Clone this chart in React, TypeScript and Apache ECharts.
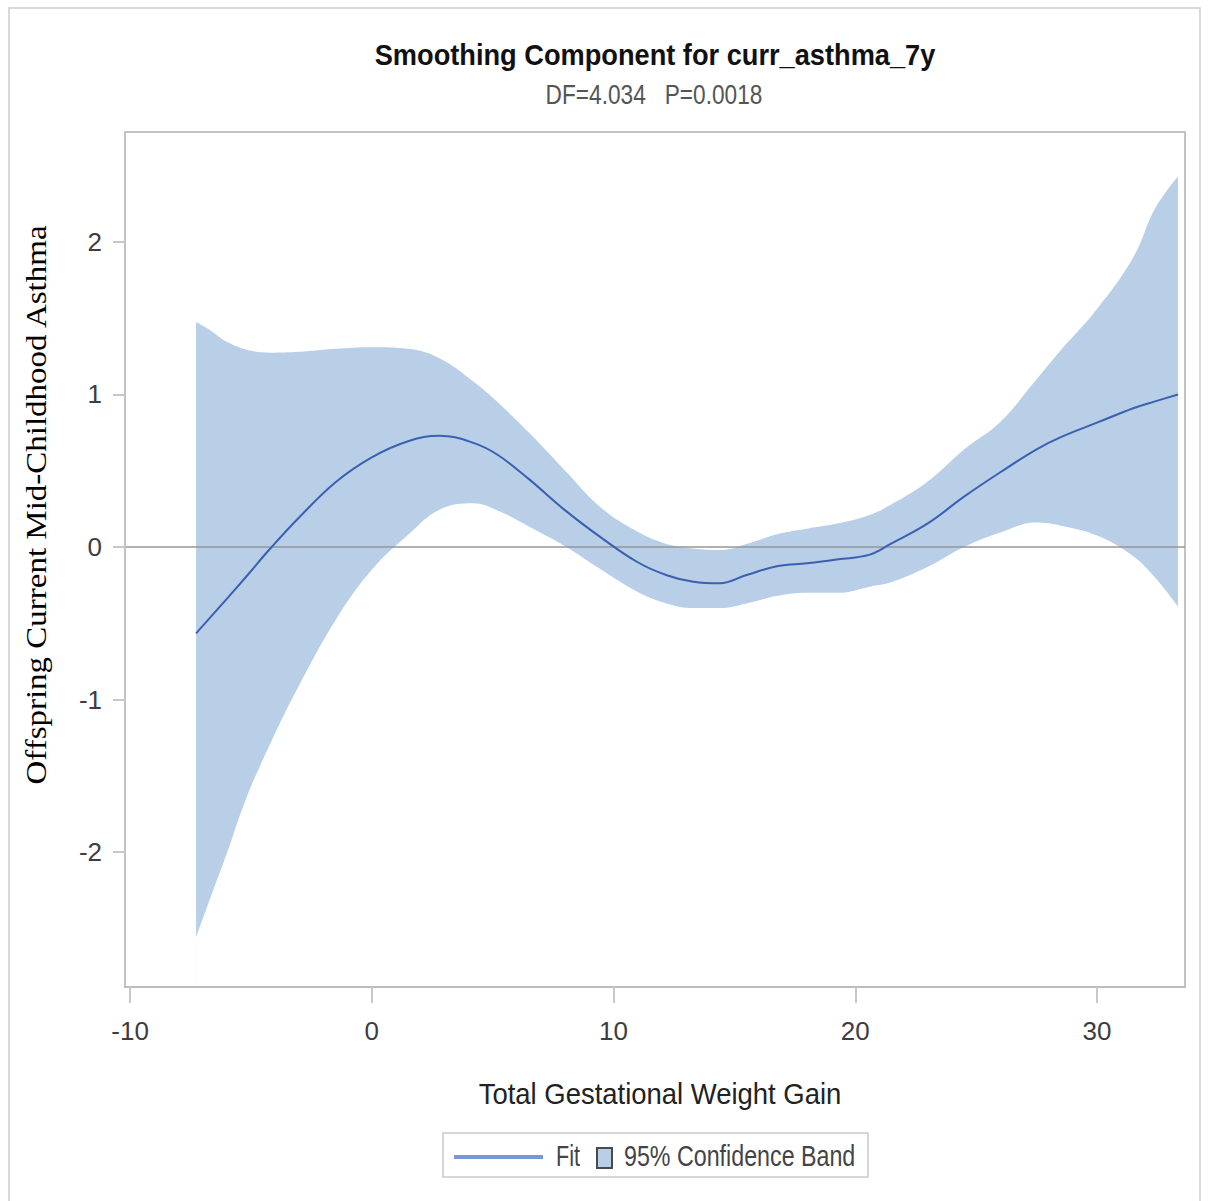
import React, { useEffect, useRef } from "react";
import * as echarts from "echarts";

const xs = [-7.27, -6.7, -6.0, -5.2, -4.2, -3, -1.5, 0, 1.5, 2.8, 4.2, 5.2, 6.5, 8, 9.5, 11, 12.2, 13.3, 14.4, 15.5, 16.8, 18, 19.3, 20.6, 21.5, 23, 24.5, 26, 27.5, 28.5, 30, 31.5, 32.4, 33.35];
const fit = [-0.566, -0.465, -0.34, -0.195, -0.01, 0.195, 0.425, 0.588, 0.693, 0.73, 0.683, 0.605, 0.445, 0.24, 0.06, -0.1, -0.185, -0.228, -0.238, -0.184, -0.125, -0.107, -0.081, -0.05, 0.024, 0.155, 0.33, 0.49, 0.64, 0.72, 0.815, 0.91, 0.955, 1.0];
const upper = [1.475, 1.423, 1.345, 1.295, 1.274, 1.28, 1.3, 1.31, 1.3, 1.237, 1.085, 0.95, 0.75, 0.5, 0.255, 0.1, 0.02, -0.01, -0.02, 0.02, 0.085, 0.12, 0.155, 0.21, 0.28, 0.43, 0.64, 0.82, 1.1, 1.29, 1.56, 1.9, 2.22, 2.43];
const lower = [-2.56, -2.31, -2.01, -1.65, -1.29, -0.905, -0.48, -0.15, 0.08, 0.245, 0.287, 0.24, 0.135, 0.005, -0.15, -0.295, -0.37, -0.4, -0.4, -0.37, -0.32, -0.3, -0.3, -0.26, -0.23, -0.13, 0.0, 0.095, 0.16, 0.14, 0.075, -0.06, -0.2, -0.39];
const xTicks = [-10, 0, 10, 20, 30];
const yTicks = [-2, -1, 0, 1, 2];

const BAND = "#b8cfe7";
const FIT = "#3b5fb1";
const SANS = "'Liberation Sans', Arial, sans-serif";
const NARROW = "'Liberation Sans Narrow', 'Liberation Sans', Arial, sans-serif";

export default function App() {
  const ref = useRef<HTMLDivElement>(null);
  useEffect(() => {
    document.body.style.margin = "0";
    document.body.style.overflow = "hidden";
    const chart = echarts.init(ref.current!, null, { renderer: "svg" });
    const lowerData = xs.map((x, i) => [x, lower[i]]);
    const upperData = xs.map((x, i) => [x, upper[i]]);
    const fitData = xs.map((x, i) => [x, fit[i]]);
    chart.setOption({
      animation: false,
      backgroundColor: "#ffffff",
      grid: {
        left: 125,
        top: 132,
        right: 23,
        bottom: 214,
        show: true,
        borderColor: "#c3c3c3",
        borderWidth: 2,
        backgroundColor: "#ffffff",
      },
      xAxis: {
        type: "value",
        min: -10.21,
        max: 33.64,
        z: 4,
        splitLine: { show: false },
        axisLine: { show: true, onZero: false, lineStyle: { color: "#bdbdbd", width: 2 } },
        axisTick: { show: true, length: 16, customValues: xTicks, lineStyle: { color: "#c8c8c8", width: 2 } },
        axisLabel: { customValues: xTicks, fontSize: 26, fontFamily: NARROW, color: "#3d3d3d", margin: 31 },
      },
      yAxis: {
        type: "value",
        min: -2.885,
        max: 2.721,
        z: 4,
        splitLine: { show: false },
        axisLine: { show: true, onZero: false, lineStyle: { color: "#c3c3c3", width: 2 } },
        axisTick: { show: true, length: 12, customValues: yTicks, lineStyle: { color: "#c8c8c8", width: 2 } },
        axisLabel: { customValues: yTicks, fontSize: 26, fontFamily: NARROW, color: "#3d3d3d", margin: 23 },
      },
      series: [
        {
          type: "line",
          name: "95% Confidence Band",
          data: upperData,
          smooth: 0.4,
          symbol: "none",
          lineStyle: { opacity: 0 },
          areaStyle: { color: BAND, opacity: 1, origin: "start" },
          silent: true,
          z: 2,
        },
        {
          type: "line",
          name: "lower",
          data: lowerData,
          smooth: 0.4,
          symbol: "none",
          lineStyle: { opacity: 0 },
          areaStyle: { color: "#ffffff", opacity: 1, origin: "start" },
          silent: true,
          z: 2,
        },
        {
          type: "line",
          name: "Fit",
          data: fitData,
          smooth: 0.4,
          symbol: "none",
          lineStyle: { color: FIT, width: 2 },
          z: 6,
          markLine: {
            silent: true,
            symbol: "none",
            z: 3,
            label: { show: false },
            lineStyle: { color: "rgba(150,150,150,0.75)", width: 2, type: "solid" },
            data: [{ yAxis: 0 }],
          },
        },
      ],
      graphic: [
        {
          type: "rect",
          shape: { x: 9, y: 8, width: 1191, height: 1200 },
          style: { fill: "none", stroke: "#d9d9d9", lineWidth: 2 },
          silent: true,
        },
        {
          type: "text",
          x: 655,
          y: 55,
          scaleX: 0.938,
          style: { text: "Smoothing Component for curr_asthma_7y", font: `bold 29px ${SANS}`, fill: "#111111", textAlign: "center", textVerticalAlign: "middle" },
        },
        {
          type: "text",
          x: 654,
          y: 94,
          scaleX: 0.84,
          style: { text: "DF=4.034   P=0.0018", font: `27px ${SANS}`, fill: "#555555", textAlign: "center", textVerticalAlign: "middle" },
        },
        {
          type: "text",
          x: 660,
          y: 1094,
          scaleX: 0.915,
          style: { text: "Total Gestational Weight Gain", font: `30px ${SANS}`, fill: "#222222", textAlign: "center", textVerticalAlign: "middle" },
        },
        {
          type: "text",
          x: 36.5,
          y: 505,
          rotation: Math.PI / 2,
          scaleX: 1.1,
          style: { text: "Offspring Current Mid-Childhood Asthma", font: "30px 'Liberation Serif', 'Times New Roman', serif", fill: "#000000", textAlign: "center", textVerticalAlign: "middle" },
        },
        {
          type: "rect",
          shape: { x: 443, y: 1133, width: 425, height: 44 },
          style: { fill: "#ffffff", stroke: "#d6d6d6", lineWidth: 2 },
        },
        {
          type: "line",
          shape: { x1: 454, y1: 1157, x2: 543, y2: 1157 },
          style: { stroke: "#7b96d0", lineWidth: 4 },
        },
        {
          type: "text",
          x: 556,
          y: 1156,
          scaleX: 0.72,
          style: { text: "Fit", font: `30px ${SANS}`, fill: "#444444", textAlign: "left", textVerticalAlign: "middle" },
        },
        {
          type: "rect",
          shape: { x: 597, y: 1148, width: 15, height: 20 },
          style: { fill: BAND, stroke: "#4a4a4a", lineWidth: 2 },
        },
        {
          type: "text",
          x: 624,
          y: 1156,
          scaleX: 0.775,
          style: { text: "95% Confidence Band", font: `30px ${SANS}`, fill: "#444444", textAlign: "left", textVerticalAlign: "middle" },
        },
      ],
    });
    return () => chart.dispose();
  }, []);
  return <div ref={ref} style={{ width: 1208, height: 1201 }} />;
}
